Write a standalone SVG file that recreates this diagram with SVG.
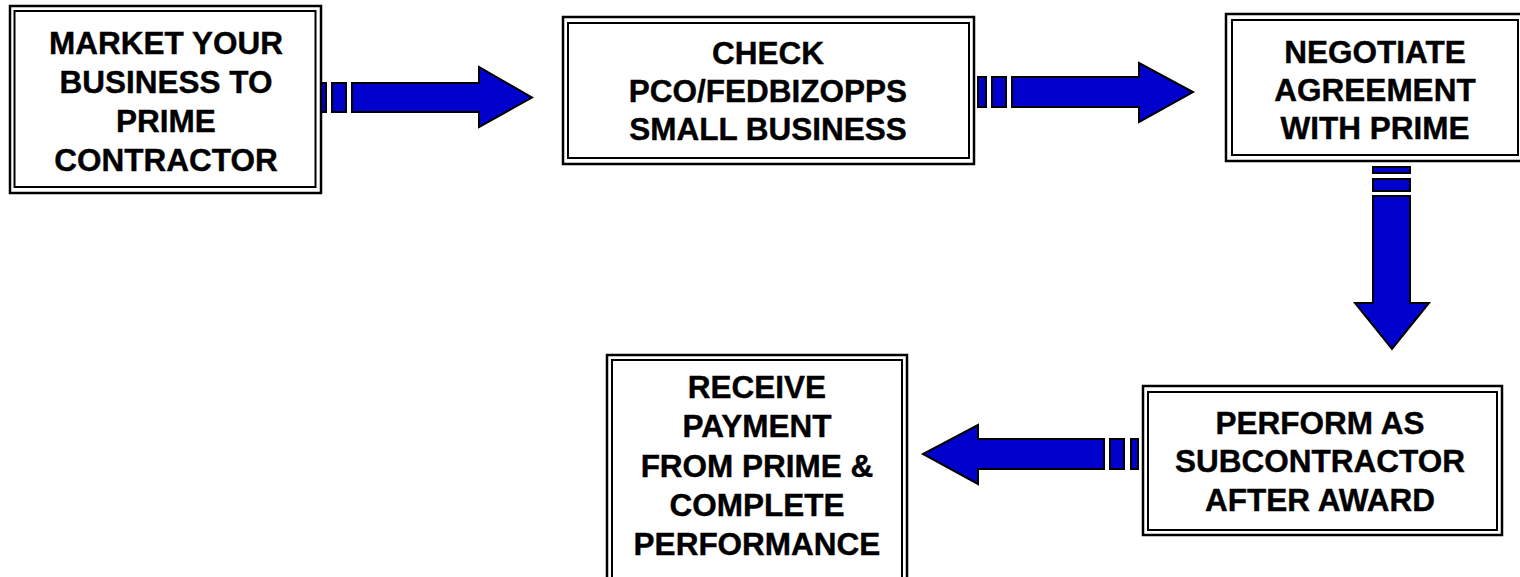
<svg xmlns="http://www.w3.org/2000/svg" width="1520" height="577" viewBox="0 0 1520 577">
<style>
.outer{fill:#fff;stroke:#000;stroke-width:2.5}
.inner{fill:none;stroke:#000;stroke-width:2}
.lbl{font-family:"Liberation Sans",Arial,sans-serif;font-weight:bold;font-size:31.5px;fill:#000;stroke:#000;stroke-width:0.4;text-anchor:middle}
.arr{fill:#0000CC;stroke:#000;stroke-width:2;stroke-linejoin:miter}
</style>
<rect width="1520" height="577" fill="#fff"/>
<g id="connectors">
  <g id="arrow1">
    <rect class="arr" x="318" y="83" width="8" height="29"/>
    <rect class="arr" x="332" y="83" width="14" height="29"/>
    <polygon class="arr" points="352,83 479,83 479,67 532,97.5 479,127 479,112 352,112"/>
  </g>
  <g id="arrow2">
    <rect class="arr" x="978" y="77" width="8" height="30"/>
    <rect class="arr" x="992" y="77" width="14" height="30"/>
    <polygon class="arr" points="1012,77 1139,77 1139,63 1193,92 1139,122 1139,107 1012,107"/>
  </g>
  <g id="arrow3">
    <rect class="arr" x="1373" y="167" width="37" height="6"/>
    <rect class="arr" x="1373" y="179" width="37" height="12"/>
    <polygon class="arr" points="1373,196 1410,196 1410,303 1429,303 1392,349 1355,303 1373,303"/>
  </g>
  <g id="arrow4">
    <rect class="arr" x="1131" y="439" width="7" height="30"/>
    <rect class="arr" x="1110" y="439" width="14" height="30"/>
    <polygon class="arr" points="1104,439 978,439 978,425 923,454 978,484 978,469 1104,469"/>
  </g>
</g>
<g id="node1">
  <rect class="outer" x="10" y="6" width="311" height="187"/>
  <rect class="inner" x="14.5" y="11" width="301" height="176"/>
  <text class="lbl" x="166" y="54">MARKET YOUR</text>
  <text class="lbl" x="166" y="93">BUSINESS TO</text>
  <text class="lbl" x="166" y="132">PRIME</text>
  <text class="lbl" x="166" y="171">CONTRACTOR</text>
</g>
<g id="node2">
  <rect class="outer" x="563" y="17" width="411" height="147"/>
  <rect class="inner" x="568" y="23" width="401" height="135"/>
  <text class="lbl" x="768" y="64">CHECK</text>
  <text class="lbl" x="768" y="102">PCO/FEDBIZOPPS</text>
  <text class="lbl" x="768" y="140">SMALL BUSINESS</text>
</g>
<g id="node3">
  <rect class="outer" x="1226" y="14" width="297" height="147"/>
  <rect class="inner" x="1232" y="20" width="286" height="135"/>
  <text class="lbl" x="1375" y="63">NEGOTIATE</text>
  <text class="lbl" x="1375" y="101">AGREEMENT</text>
  <text class="lbl" x="1375" y="139">WITH PRIME</text>
</g>
<g id="node4">
  <rect class="outer" x="607" y="355" width="300" height="235"/>
  <rect class="inner" x="612" y="360" width="290" height="225"/>
  <text class="lbl" x="757" y="398">RECEIVE</text>
  <text class="lbl" x="757" y="437">PAYMENT</text>
  <text class="lbl" x="757" y="477">FROM PRIME &amp;</text>
  <text class="lbl" x="757" y="516">COMPLETE</text>
  <text class="lbl" x="757" y="555">PERFORMANCE</text>
</g>
<g id="node5">
  <rect class="outer" x="1143" y="386" width="359" height="149"/>
  <rect class="inner" x="1148" y="392" width="349" height="138"/>
  <text class="lbl" x="1320" y="434">PERFORM AS</text>
  <text class="lbl" x="1320" y="472">SUBCONTRACTOR</text>
  <text class="lbl" x="1320" y="511">AFTER AWARD</text>
</g>
</svg>
